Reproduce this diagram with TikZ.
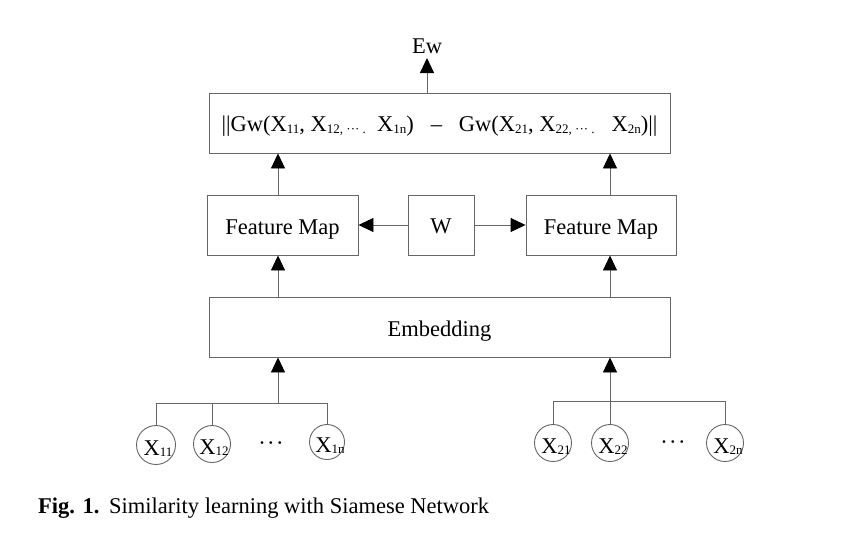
\documentclass[tikz,border=0pt]{standalone}
\usepackage{fontspec}
\setmainfont{Liberation Serif}
\usetikzlibrary{arrows.meta}
\newcommand\sbs[1]{\raisebox{-1.5pt}{\fontsize{13}{13}\selectfont #1}}
\begin{document}
\begin{tikzpicture}[x=1pt,y=-1pt,
  every node/.style={font=\fontsize{22.5}{26}\selectfont},
  ln/.style={draw=black!60, line width=0.9pt},
  arr/.style={ln, -{Triangle[length=15pt,width=14pt,color=black]}},
  blk/.style={ln, rectangle, minimum height=60pt, inner sep=0pt, text height=19pt, text depth=0pt},
  xc/.style={ln, circle, minimum size=37pt, inner sep=0pt},
  xl/.style={inner sep=0pt, anchor=base}
]
\useasboundingbox (0,0) rectangle (856,533);
% blocks
\node[blk, minimum width=461pt, text height=17pt] (top) at (439.5,123) {||Gw(X\sbs{11}, X\sbs{12, ··· .}\ \ X\sbs{1n})\ \ \ –\ \ \ Gw(X\sbs{21}, X\sbs{22, ··· .}\ \ \ X\sbs{2n})||};
\node[blk, minimum width=151pt] (fml) at (282.5,225) {Feature Map};
\node[blk, minimum width=66pt, text height=17pt] (w) at (441,225) {W};
\node[blk, minimum width=150pt] (fmr) at (601,225) {Feature Map};
\node[blk, minimum width=461pt] (emb) at (439.5,327) {Embedding};
\node[inner sep=0pt, anchor=base] (ew) at (427,53) {Ew};
\coordinate (cl) at (278,0);
\coordinate (cr) at (610,0);
\coordinate (ce) at (427,0);
% arrows
\draw[arr] (top.north -| ce) -- ([yshift=-5pt]ew.base);
\draw[arr] (fml.north -| cl) -- (top.south -| cl);
\draw[arr] (fmr.north -| cr) -- (top.south -| cr);
\draw[arr] (w.west) -- (fml.east);
\draw[arr] (w.east) -- (fmr.east -| fmr.west);
\draw[arr] (emb.north -| cl) -- (fml.south -| cl);
\draw[arr] (emb.north -| cr) -- (fmr.south -| cr);
% left tree
\node[xc, minimum size=39pt] (x11) at (156,445) {};
\node[xc] (x12) at (212,444) {};
\node[xc, minimum size=35pt] (x1n) at (327,442) {};
\node[xl] (l11) at (158,455) {X\sbs{11}};
\node[xl] (l12) at (214,454) {X\sbs{12}};
\node[xl] (l1n) at (330,452) {X\sbs{1n}};
\node[xl] (d1) at (271,450) {·\kern1.5pt·\kern1.5pt·};
\coordinate (hl) at (278,403);
\draw[ln] (x11.north |- hl) -- (x1n.north |- hl);
\draw[ln] (x11.north) -- (x11.north |- hl);
\draw[ln] (x12.north) -- (x12.north |- hl);
\draw[ln] (x1n.north) -- (x1n.north |- hl);
\draw[arr] (hl) -- (emb.south -| hl);
% right tree
\node[xc] (x21) at (553,443) {};
\node[xc] (x22) at (610,443) {};
\node[xc] (x2n) at (725,443) {};
\node[xl] (l21) at (556,453) {X\sbs{21}};
\node[xl] (l22) at (613,453) {X\sbs{22}};
\node[xl] (l2n) at (728,453) {X\sbs{2n}};
\node[xl] (d2) at (673,449) {·\kern1.5pt·\kern1.5pt·};
\coordinate (hr) at (610,401);
\draw[ln] (x21.north |- hr) -- (x2n.north |- hr);
\draw[ln] (x21.north) -- (x21.north |- hr);
\draw[ln] (x22.north) -- (x22.north |- hr);
\draw[ln] (x2n.north) -- (x2n.north |- hr);
\draw[arr] (hr) -- (emb.south -| hr);
% caption
\node[inner sep=0pt, anchor=base west] (fig) at (38,513) {\textbf{Fig. 1.}};
\node[inner sep=0pt, anchor=base west] (cap) at (109,513) {Similarity learning with Siamese Network};
\end{tikzpicture}
\end{document}
